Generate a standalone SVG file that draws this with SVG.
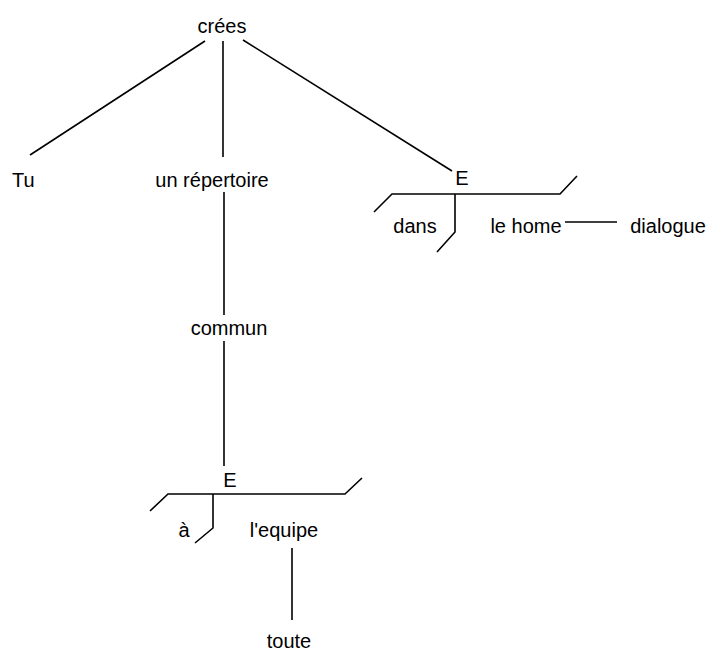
<svg xmlns="http://www.w3.org/2000/svg" width="710" height="652" viewBox="0 0 710 652">
<style>
text{font-family:"Liberation Sans",Arial,sans-serif;font-size:20px;fill:#000}
.c{text-anchor:middle}
line,polyline{stroke:#000;stroke-width:1.6;fill:none}
</style>
<rect width="710" height="652" fill="#fff"/>
<g id="connectors">
<line x1="205" y1="41" x2="30" y2="155"/>
<line x1="223" y1="41" x2="223" y2="157"/>
<line x1="243" y1="40" x2="452" y2="171"/>
<line x1="224" y1="192" x2="224" y2="315"/>
<line x1="224" y1="341" x2="224" y2="466"/>
<polyline points="374,212 392,194 560,194 577,176"/>
<polyline points="455,194 455,232 437,252"/>
<line x1="565" y1="222" x2="617" y2="222"/>
<polyline points="150,511 168,494 345,494 362,478"/>
<polyline points="213,494 213,528 195,543"/>
<line x1="292" y1="548" x2="292" y2="620"/>
</g>
<g id="n-crees"><text class="c" x="222" y="33">crées</text></g>
<g id="n-tu"><text x="12" y="187">Tu</text></g>
<g id="n-repertoire"><text class="c" x="212" y="187">un répertoire</text></g>
<g id="n-commun"><text class="c" x="229" y="335">commun</text></g>
<g id="n-E1"><text class="c" x="462" y="185">E</text></g>
<g id="n-dans"><text class="c" x="415" y="233">dans</text></g>
<g id="n-lehome"><text class="c" x="526" y="233">le home</text></g>
<g id="n-dialogue"><text class="c" x="668" y="233">dialogue</text></g>
<g id="n-E2"><text class="c" x="230" y="487">E</text></g>
<g id="n-a"><text class="c" x="184" y="537">à</text></g>
<g id="n-equipe"><text class="c" x="284" y="537">l'equipe</text></g>
<g id="n-toute"><text class="c" x="289" y="648">toute</text></g>
</svg>
